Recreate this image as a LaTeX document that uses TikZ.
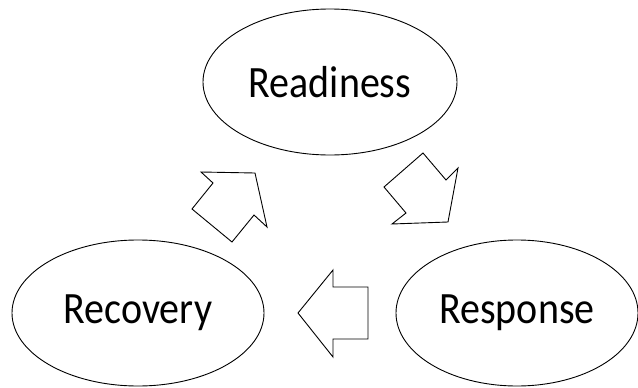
\documentclass[tikz,border=0pt]{standalone}
\usepackage{fontspec}
\setmainfont{Carlito}
\usepackage{tikz}
\usetikzlibrary{shapes.geometric}

\begin{document}
\begin{tikzpicture}[x=1pt, y=-1pt,
    every node/.style={font=\fontsize{40}{48}\selectfont},
    phase/.style={ellipse, draw=black, line width=0.9pt, inner sep=0pt, align=center},
    blockarrow/.style={draw=black, line width=0.9pt, fill=white, line join=miter},
]
\useasboundingbox (0,0) rectangle (638,388);

% Phases
\node[phase, minimum width=254pt, minimum height=146pt] (readiness) at (330,82) {\scalebox{1}[1.12]{Readiness}};
\node[phase, minimum width=252pt, minimum height=146pt] (recovery) at (138,313) {\scalebox{1}[1.12]{Recovery}};
\node[phase, minimum width=242pt, minimum height=146pt] (response) at (517,313) {\scalebox{1}[1.12]{Response}};

% Block arrows
\draw[blockarrow] (201,172) -- (255,173) -- (267,227) -- (254,215) -- (232,242) -- (192,209) -- (213,183) -- cycle;
\draw[blockarrow] (423,153) -- (446,180) -- (458,168) -- (448,222) -- (392,224) -- (406,213) -- (384,187) -- cycle;
\draw[blockarrow] (298,313) -- (333,270) -- (333,287) -- (368,287) -- (368,339) -- (333,339) -- (333,357) -- cycle;

\end{tikzpicture}
\end{document}
